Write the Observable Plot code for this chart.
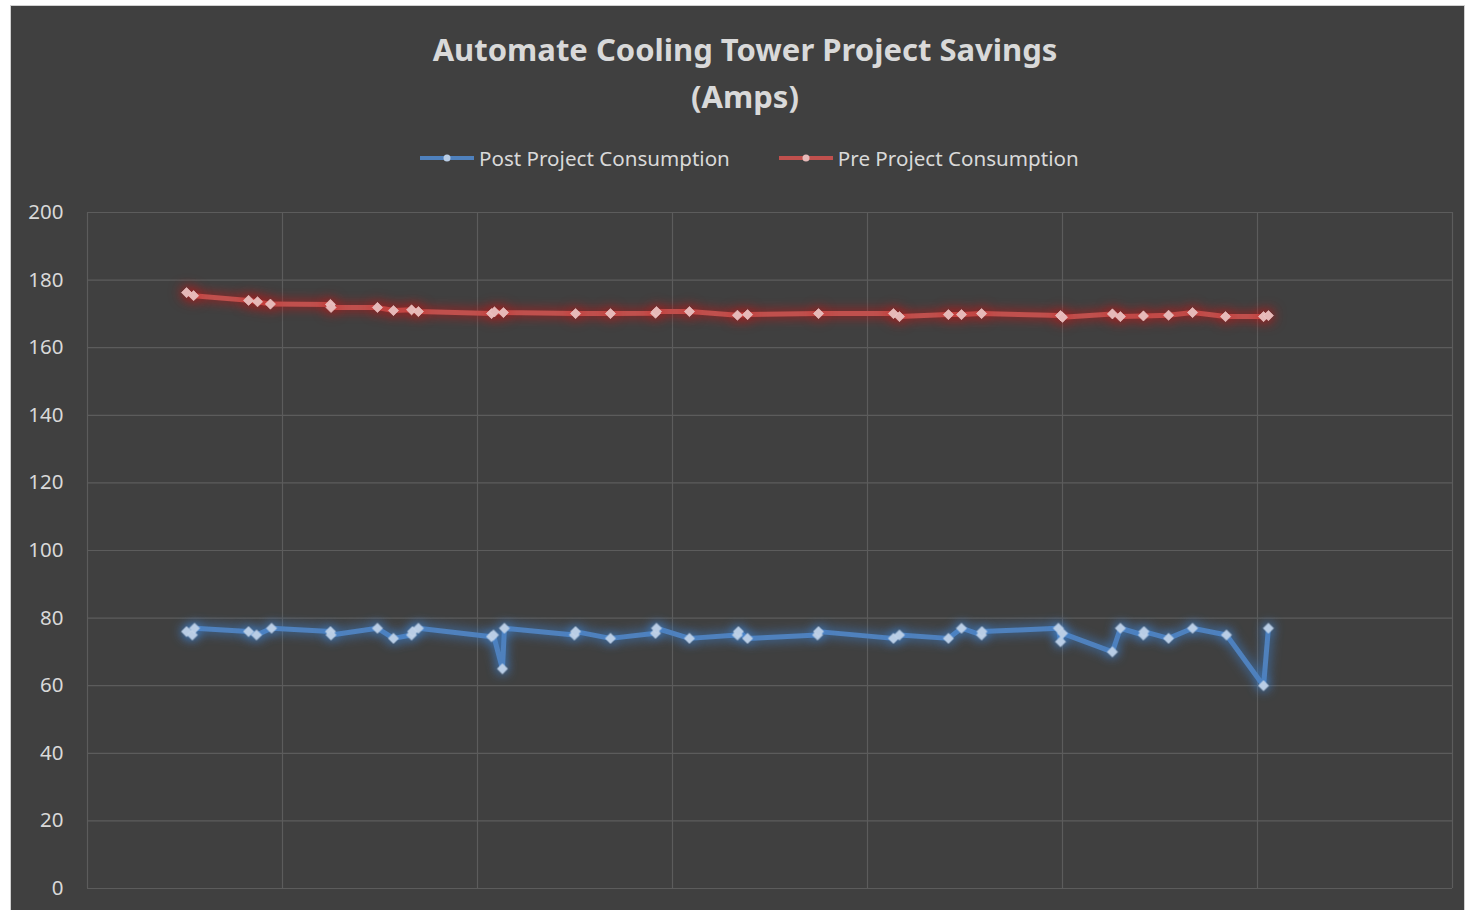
<!DOCTYPE html>
<html>
<head>
<meta charset="utf-8">
<script src="https://cdn.jsdelivr.net/npm/d3@7"></script>
<script src="https://cdn.jsdelivr.net/npm/@observablehq/plot@0.6"></script>
<style>
  html, body { margin: 0; padding: 0; background: #ffffff; width: 1470px; height: 910px; overflow: hidden; font-family: "Noto Sans", sans-serif; }
  #frame { position: absolute; left: 10px; top: 5px; width: 1455px; height: 920px; background: #404040; border: 1px solid #d0d0d0; box-sizing: border-box; }
  #title { position: absolute; left: 0; width: 1490px; top: 26px; text-align: center; color: #d9d9d9; font-weight: bold; font-size: 31px; line-height: 47px; }
  #legend { position: absolute; top: 144px; left: 420px; color: #d9d9d9; font-size: 20.6px; display: flex; align-items: center; white-space: nowrap; }
  .item { display: flex; align-items: center; margin-right: 49px; }
  .item svg { margin-right: 5px; }
  #chart { position: absolute; left: 0; top: 190px; }
</style>
</head>
<body>
<div id="frame"></div>
<div id="title">Automate Cooling Tower Project Savings<br>(Amps)</div>
<div id="legend"></div>
<div id="chart"></div>
<script>
// ---- data (x in day units across the 7 grid intervals) ----
const seriesNames = ["Post Project Consumption", "Pre Project Consumption"];
const seriesColors = ["#4f81bd", "#c0504d"];
const markerColors = ["#b9cde5", "#e6b9b8"];
const glowColors = ["#3d85d8", "#d01010"];

const postX = [0.508,0.538,0.549,0.826,0.867,0.944,1.246,1.249,1.487,1.569,1.662,1.667,1.697,2.072,2.082,2.128,2.138,2.497,2.503,2.682,2.913,2.918,3.087,3.333,3.338,3.385,3.744,3.749,4.133,4.164,4.415,4.482,4.585,4.587,4.979,4.990,5.000,5.256,5.297,5.415,5.418,5.544,5.667,5.841,6.031,6.056];
const postY = [76,75,77,76,75,77,76,75,77,74,75,76,77,74.5,75,65,77,75,76,74,75.5,77,74,75,76,74,75,76,74,75,74,77,75,76,77,73,75.5,70,77,75,76,74,77,75,60,77];

const preX = [0.508,0.544,0.826,0.872,0.938,1.246,1.249,1.487,1.569,1.662,1.697,2.072,2.087,2.133,2.503,2.682,2.913,2.918,3.087,3.333,3.385,3.749,4.133,4.164,4.415,4.482,4.585,4.990,5.000,5.256,5.297,5.415,5.544,5.667,5.836,6.031,6.056];
const preY = [176.3,175.4,174.0,173.6,172.9,172.8,171.9,171.9,171.0,171.2,170.7,170.1,170.6,170.4,170.1,170.1,170.2,170.7,170.7,169.6,169.8,170.1,170.1,169.2,169.8,169.8,170.1,169.5,169.0,170.0,169.2,169.4,169.6,170.4,169.2,169.2,169.5];

const yTicks = [0,20,40,60,80,100,120,140,160,180,200];
const xGrid = [0,1,2,3,4,5,6,7];

const post = postX.map((x, i) => ({x, y: postY[i]}));
const pre = preX.map((x, i) => ({x, y: preY[i]}));

// ---- legend ----
const legend = document.getElementById("legend");
seriesNames.forEach((name, i) => {
  const item = document.createElement("div");
  item.className = "item";
  item.innerHTML = `<svg width="54" height="12"><line x1="0" y1="6" x2="54" y2="6" stroke="${seriesColors[i]}" stroke-width="4"/><circle cx="27" cy="6" r="3.5" fill="${markerColors[i]}"/></svg><span>${name}</span>`;
  legend.appendChild(item);
});

// ---- chart ----
const chart = Plot.plot({
  width: 1470,
  height: 718,
  marginLeft: 87,
  marginRight: 18,
  marginTop: 22,
  marginBottom: 20,
  style: { background: "transparent", color: "#d9d9d9", fontFamily: "Noto Sans, sans-serif", fontSize: "20.5px" },
  x: { domain: [0, 7], axis: null },
  y: { domain: [0, 200], ticks: yTicks, tickSize: 0, tickPadding: 24, label: null },
  marks: [
    Plot.ruleY(yTicks, { stroke: "#5c5c5c", strokeWidth: 1.2 }),
    Plot.ruleX(xGrid, { stroke: "#5c5c5c", strokeWidth: 1.2 }),
    Plot.line(pre, { x: "x", y: "y", stroke: seriesColors[1], strokeWidth: 5, curve: "linear" }),
    Plot.dot(pre, { x: "x", y: "y", symbol: "diamond2", r: 4.6, fill: markerColors[1], stroke: "#f0cccc", strokeWidth: 0.6 }),
    Plot.line(post, { x: "x", y: "y", stroke: seriesColors[0], strokeWidth: 5, curve: "linear" }),
    Plot.dot(post, { x: "x", y: "y", symbol: "diamond2", r: 4.6, fill: markerColors[0], stroke: "#d0deee", strokeWidth: 0.6 })
  ]
});
document.getElementById("chart").appendChild(chart);

// glow effect on lines and markers
const svg = d3.select(chart);
const lines = svg.selectAll('g[aria-label="line"]').nodes();
const dots = svg.selectAll('g[aria-label="dot"]').nodes();
// order: pre (red) first, then post (blue)
d3.select(lines[0]).style("filter", `drop-shadow(0 0 6px ${glowColors[1]})`);
d3.select(dots[0]).style("filter", `drop-shadow(0 0 7px ${glowColors[1]})`);
d3.select(lines[1]).style("filter", `drop-shadow(0 0 6px ${glowColors[0]})`);
d3.select(dots[1]).style("filter", `drop-shadow(0 0 6px ${glowColors[0]})`);
</script>
</body>
</html>
